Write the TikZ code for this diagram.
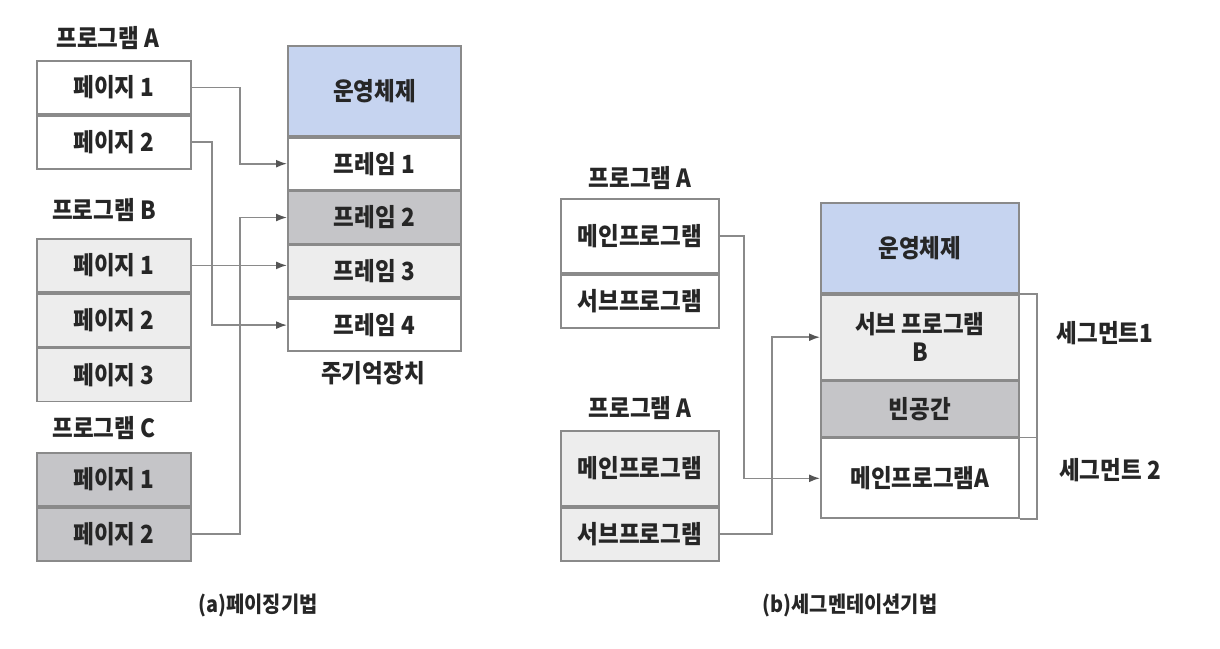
\documentclass[tikz,border=0pt]{standalone}
\usepackage{fontspec}
\setmainfont{Noto Sans CJK KR}[FakeStretch=0.9]
\usepackage{tikz}
\usetikzlibrary{arrows.meta,positioning}

\definecolor{osblue}{HTML}{C6D4F0}
\definecolor{lightgray}{HTML}{EDEDED}
\definecolor{midgray}{HTML}{C5C5C8}
\definecolor{edgegray}{HTML}{8A8A8A}
\definecolor{tipgray}{HTML}{555555}

\tikzset{
  txt/.style={font=\bfseries\fontsize{25}{28}\selectfont, text=black!85},
  captxt/.style={font=\bfseries\fontsize{22}{25}\selectfont, text=black!85},
  cell/.style={txt, draw=edgegray, line width=1.8pt, inner sep=0pt, fill=white},
  pagecell/.style={cell, minimum width=154pt, minimum height=53pt},
  segcell/.style={cell, minimum width=158pt},
  link/.style={draw=edgegray, line width=1.6pt, -{Latex[length=11pt,width=8pt,color=tipgray]}},
  bracket/.style={draw=edgegray, line width=1.6pt}
}

\begin{document}
\begin{tikzpicture}[x=1pt, y=-1pt, >=Latex]
  \useasboundingbox (0,0) rectangle (1220,648);

  % (a) paging: programs
  \node[txt] (pa) at (108,38) {프로그램 A};
  \node[pagecell, anchor=north west] (pa1) at (36,60) {페이지 1};
  \node[pagecell, below=0pt of pa1] (pa2) {페이지 2};

  \node[txt] (pb) at (104,210) {프로그램 B};
  \node[pagecell, fill=lightgray, anchor=north west] (pb1) at (36,238) {페이지 1};
  \node[pagecell, fill=lightgray, below=0pt of pb1] (pb2) {페이지 2};
  \node[pagecell, fill=lightgray, below=0pt of pb2] (pb3) {페이지 3};

  \node[txt] (pc) at (104,428) {프로그램 C};
  \node[pagecell, fill=midgray, anchor=north west] (pc1) at (36,452) {페이지 1};
  \node[pagecell, fill=midgray, below=0pt of pc1] (pc2) {페이지 2};

  % (a) paging: main memory
  \node[cell, fill=osblue, minimum width=173pt, minimum height=90pt, anchor=north west] (os1) at (287,45) {운영체제};
  \node[cell, minimum width=173pt, minimum height=52pt, below=0pt of os1] (fr1) {프레임 1};
  \node[cell, fill=midgray, minimum width=173pt, minimum height=52pt, below=0pt of fr1] (fr2) {프레임 2};
  \node[cell, fill=lightgray, minimum width=173pt, minimum height=52pt, below=0pt of fr2] (fr3) {프레임 3};
  \node[cell, minimum width=173pt, minimum height=52pt, below=0pt of fr3] (fr4) {프레임 4};
  \node[txt] (mem) at (373,373) {주기억장치};

  \draw[link] (pa1.east) -- ++(48,0) |- (fr1.west);
  \draw[link] (pa2.east) -- ++(20,0) |- (fr4.west);
  \draw[link] (pb1.east) -- (pb1.east -| fr3.west);
  \draw[link] (pc2.east) -- ++(48,0) |- (fr2.west);

  \node[captxt] (capa) at (258,605) {(a)페이징기법};

  % (b) segmentation: programs
  \node[txt] (sa) at (640,178) {프로그램 A};
  \node[segcell, minimum height=74pt, anchor=north west] (sa1) at (560,198) {메인프로그램};
  \node[segcell, minimum height=53pt, below=0pt of sa1] (sa2) {서브프로그램};

  \node[txt] (sb) at (640,408) {프로그램 A};
  \node[segcell, fill=lightgray, minimum height=75pt, anchor=north west] (sb1) at (560,430) {메인프로그램};
  \node[segcell, fill=lightgray, minimum height=53pt, below=0pt of sb1] (sb2) {서브프로그램};

  % (b) segmentation: main memory
  \node[cell, fill=osblue, minimum width=198pt, minimum height=90pt, anchor=north west] (os2) at (820,202) {운영체제};
  \node[cell, fill=lightgray, minimum width=198pt, minimum height=85pt, align=center, below=0pt of os2] (msub) {서브 프로그램\\B};
  \node[cell, fill=midgray, minimum width=198pt, minimum height=55pt, below=0pt of msub] (mfree) {빈공간};
  \node[cell, minimum width=198pt, minimum height=80pt, below=0pt of mfree] (mmain) {메인프로그램A};

  \draw[bracket] (msub.north east) -- ++(17,0) |- (mmain.south east);
  \draw[bracket] (mfree.south east) -- ++(17,0);
  \node[txt] (seg1) at (1105,333) {세그먼트1};
  \node[txt] (seg2) at (1110,470) {세그먼트 2};

  \draw[link] (sa1.east) -- ++(24,0) |- (mmain.west);
  \draw[link] (sb2.east) -- ++(52,0) |- (msub.west);

  \node[captxt] (capb) at (850,605) {(b)세그멘테이션기법};
\end{tikzpicture}
\end{document}
